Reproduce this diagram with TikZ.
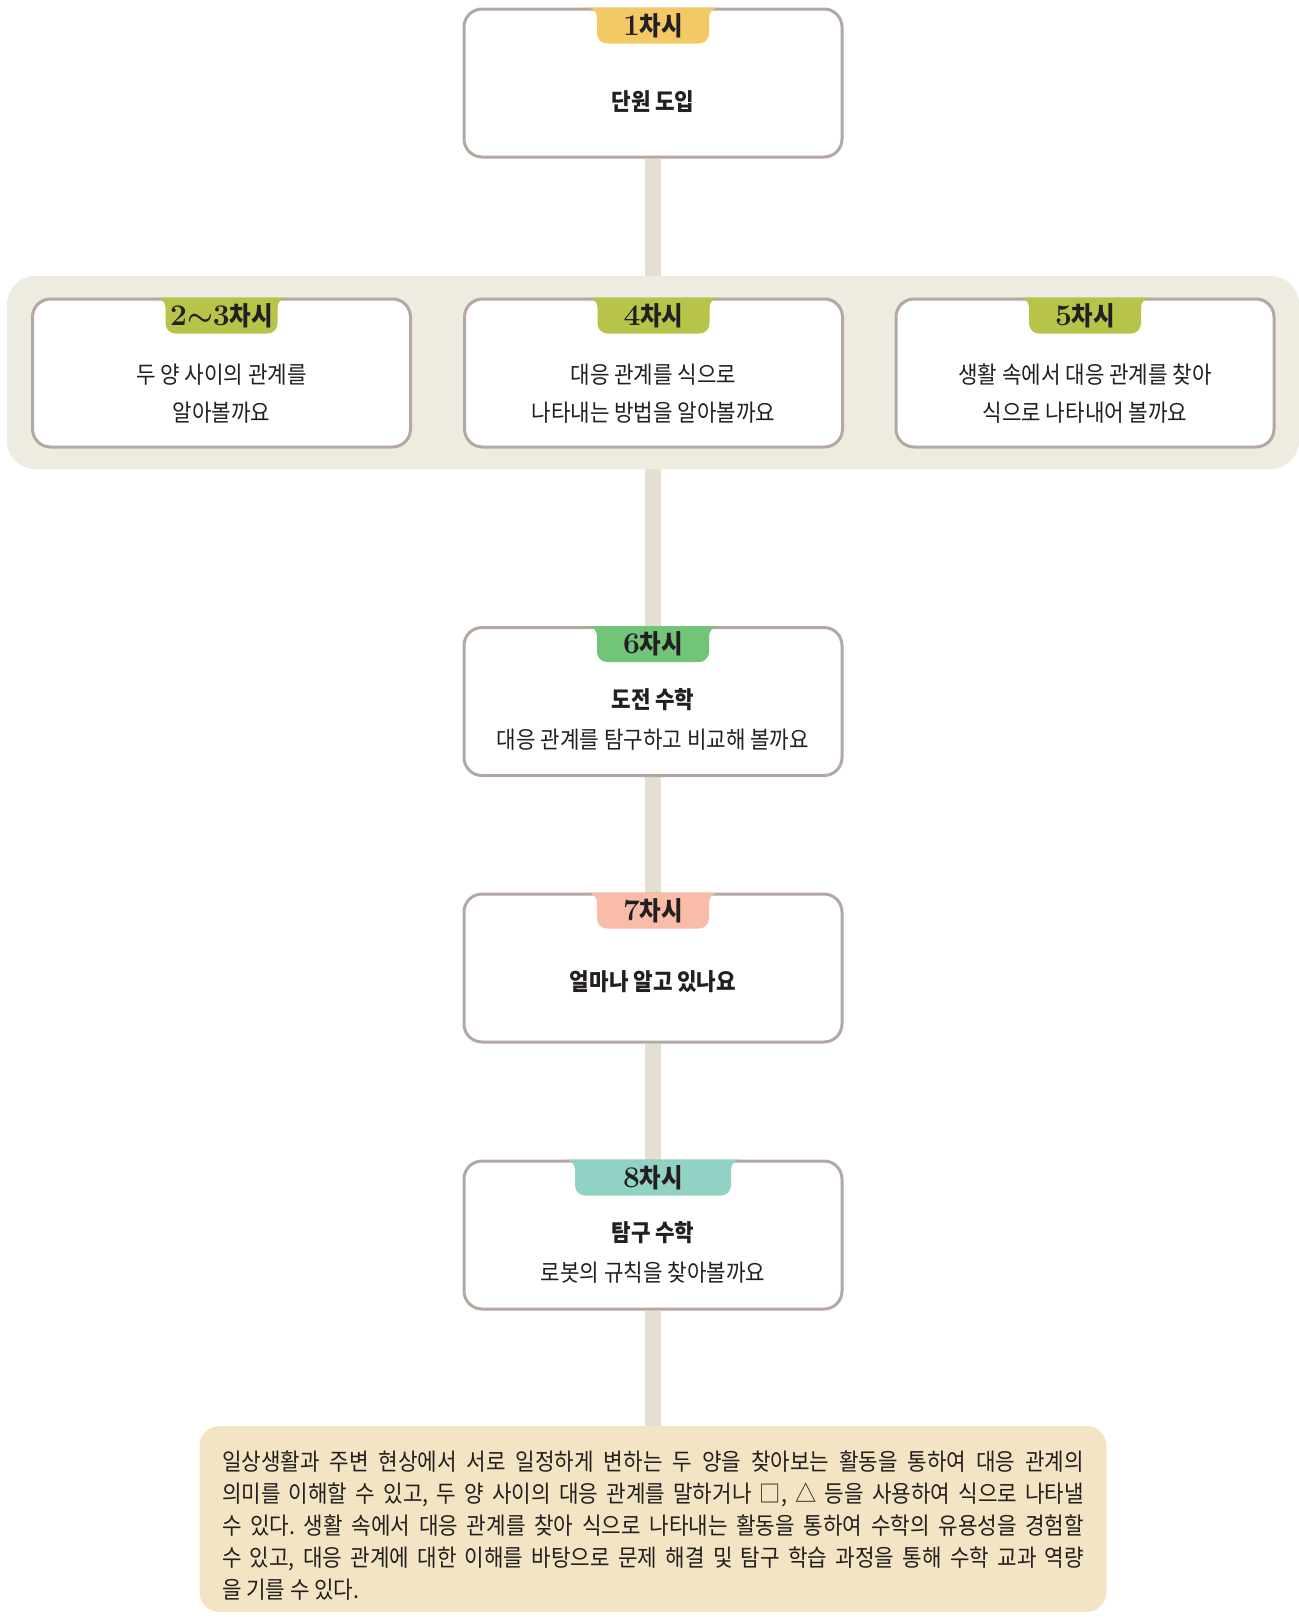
\documentclass[tikz,border=0pt]{standalone}
\usepackage{fontspec}
\usetikzlibrary{backgrounds}
\newfontfamily\kr[FakeStretch=0.9]{Noto Sans CJK KR}
\definecolor{lineclr}{HTML}{B4A8A3}
\definecolor{spineclr}{HTML}{E5DFD2}
\definecolor{grpclr}{HTML}{EEEBE0}
\definecolor{goalclr}{HTML}{F3E4C3}
\definecolor{txtclr}{HTML}{231F20}
\definecolor{tyellow}{HTML}{F3C966}
\definecolor{tolive}{HTML}{B8C34A}
\definecolor{tgreen}{HTML}{72C479}
\definecolor{tsalmon}{HTML}{F8BCA8}
\definecolor{tteal}{HTML}{91D2C4}
\newcommand\tabfill[3]{\fill[#2] ([xshift=-#3-5pt]#1.north) arc[start angle=90,end angle=0,radius=5pt] -- ++(0pt,-8pt) arc[start angle=180,end angle=270,radius=5pt] -- ++(2*#3-10pt,0pt) arc[start angle=270,end angle=360,radius=5pt] -- ++(0pt,8pt) arc[start angle=180,end angle=90,radius=5pt] -- cycle;}
\newcommand\chasi[1]{{\rmfamily\fontsize{15}{15}\selectfont\bfseries #1}{\kr\bfseries\fontsize{13}{15}\selectfont 차시}}
\begin{document}
\begin{tikzpicture}[x=0.5pt,y=-0.5pt,font=\kr\fontsize{11.8}{19}\selectfont,text=txtclr]
\tikzset{box/.style={draw=lineclr,line width=1.5pt,fill=white,rounded corners=9pt,minimum width=189pt,minimum height=74pt},
  tabtxt/.style={inner sep=0pt},
  body/.style={align=center},
  spine/.style={draw=spineclr,line width=8pt}}
\useasboundingbox (0,0) rectangle (1299,1617);
\node[fill=grpclr,rounded corners=14pt,minimum width=646pt,minimum height=96.5pt] (grp) at (653,372.5) {};
\node[box] (b1) at (653,83) {};
\node[box] (b2) at (221.5,373) {};
\node[box] (b4) at (653.5,373) {};
\node[box] (b5) at (1085,373) {};
\node[box] (b6) at (653,701.5) {};
\node[box] (b7) at (653,968) {};
\node[box] (b8) at (653,1235) {};
\node[fill=goalclr,rounded corners=10pt,text width=431pt,inner xsep=11.25pt,minimum height=93pt,align=justify,font=\kr\fontsize{11.8}{16}\selectfont\frenchspacing] (goal) at (653,1519)
  {\rule{0pt}{16.5pt}일상생활과 주변 현상에서 서로 일정하게 변하는 두 양을 찾아보는 활동을 통하여 대응 관계의\linebreak
   의미를 이해할 수 있고, 두 양 사이의 대응 관계를 말하거나 □, △ 등을 사용하여 식으로 나타낼\linebreak
   수 있다. 생활 속에서 대응 관계를 찾아 식으로 나타내는 활동을 통하여 수학의 유용성을 경험할\linebreak
   수 있고, 대응 관계에 대한 이해를 바탕으로 문제 해결 및 탐구 학습 과정을 통해 수학 교과 역량\linebreak
   을 기를 수 있다.};
\begin{scope}[on background layer]
\draw[spine] (b1) -- (grp) (grp) -- (b6) (b6) -- (b7) (b7) -- (b8) (b8) -- (goal);
\end{scope}
\tabfill{b1}{tyellow}{28pt}
\tabfill{b2}{tolive}{28pt}
\tabfill{b4}{tolive}{28pt}
\tabfill{b5}{tolive}{28pt}
\tabfill{b6}{tgreen}{28pt}
\tabfill{b7}{tsalmon}{28pt}
\tabfill{b8}{tteal}{39pt}
\node[tabtxt] (t1) at ([yshift=-9pt]b1.north) {\chasi{1}};
\node[tabtxt] (t2) at ([yshift=-9pt]b2.north) {\chasi{2{\boldmath$\sim$}3}};
\node[tabtxt] (t4) at ([yshift=-9pt]b4.north) {\chasi{4}};
\node[tabtxt] (t5) at ([yshift=-9pt]b5.north) {\chasi{5}};
\node[tabtxt] (t6) at ([yshift=-9pt]b6.north) {\chasi{6}};
\node[tabtxt] (t7) at ([yshift=-9pt]b7.north) {\chasi{7}};
\node[tabtxt] (t8) at ([yshift=-9pt]b8.north) {\chasi{8}};
\node[body] (x1) at ([yshift=-9.5pt]b1.center) {\bfseries 단원 도입};
\node[body] (x2) at ([yshift=-10.5pt]b2.center) {두 양 사이의 관계를\\알아볼까요};
\node[body] (x4) at ([yshift=-10.5pt]b4.center) {대응 관계를 식으로\\나타내는 방법을 알아볼까요};
\node[body] (x5) at ([yshift=-10.5pt]b5.center) {생활 속에서 대응 관계를 찾아\\식으로 나타내어 볼까요};
\node[body] (x6) at ([yshift=-8.75pt]b6.center) {\bfseries 도전 수학\\[1pt]대응 관계를 탐구하고 비교해 볼까요};
\node[body] (x7) at ([yshift=-7pt]b7.center) {\bfseries 얼마나 알고 있나요};
\node[body] (x8) at ([yshift=-8.5pt]b8.center) {\bfseries 탐구 수학\\[1pt]로봇의 규칙을 찾아볼까요};
\end{tikzpicture}
\end{document}
